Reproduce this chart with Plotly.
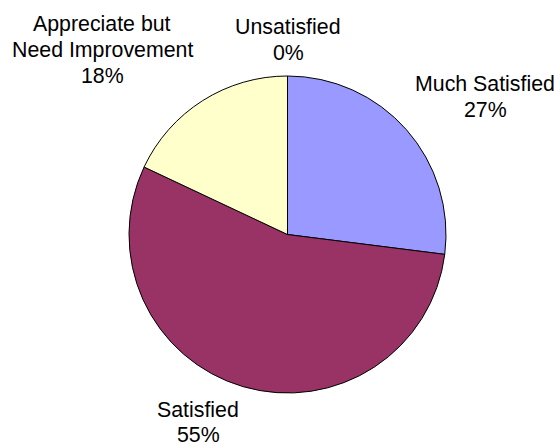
import plotly.graph_objects as go

W, H = 560, 443

labels = ["Much Satisfied", "Satisfied", "Appreciate but Need Improvement", "Unsatisfied"]
label_lines = [["Much Satisfied"], ["Satisfied"], ["Appreciate but", "Need Improvement"], ["Unsatisfied"]]
values = [27, 55, 18, 0]
colors = ["#9999FF", "#993366", "#FFFFCC", "#CCFFFF"]

# label placement (pixel centre x, first-line middle y)
label_pos = [(485, 84.5), (198, 409.5), (102, 24.5), (288, 27.5)]
LINE_STEP = 25.5
FONT = dict(family="Liberation Sans, Arial, sans-serif", size=21.33, color="#000000")

cx, cy, r = 287.5, 234.5, 158.5

fig = go.Figure(go.Pie(
    labels=labels,
    values=values,
    sort=False,
    direction="clockwise",
    rotation=0,
    marker=dict(colors=colors, line=dict(color="#000000", width=1)),
    textinfo="none",
    hoverinfo="label+percent",
    showlegend=False,
    domain=dict(x=[(cx - r) / W, (cx + r) / W], y=[1 - (cy + r) / H, 1 - (cy - r) / H]),
))

annotations = []
for lines, v, (px, py) in zip(label_lines, values, label_pos):
    all_lines = lines + [f"{v}%"]
    for i, t in enumerate(all_lines):
        y = py + i * LINE_STEP
        annotations.append(dict(
            text=t, x=px / W, y=1 - y / H, xref="paper", yref="paper",
            xanchor="center", yanchor="middle", showarrow=False, font=FONT,
        ))

fig.update_layout(
    width=W, height=H,
    margin=dict(l=0, r=0, t=0, b=0),
    paper_bgcolor="#FFFFFF",
    plot_bgcolor="#FFFFFF",
    annotations=annotations,
)

fig.write_html(
    "out.html",
    config={"displayModeBar": False},
    post_script="document.body.style.margin='0';document.body.style.overflow='hidden';",
)
